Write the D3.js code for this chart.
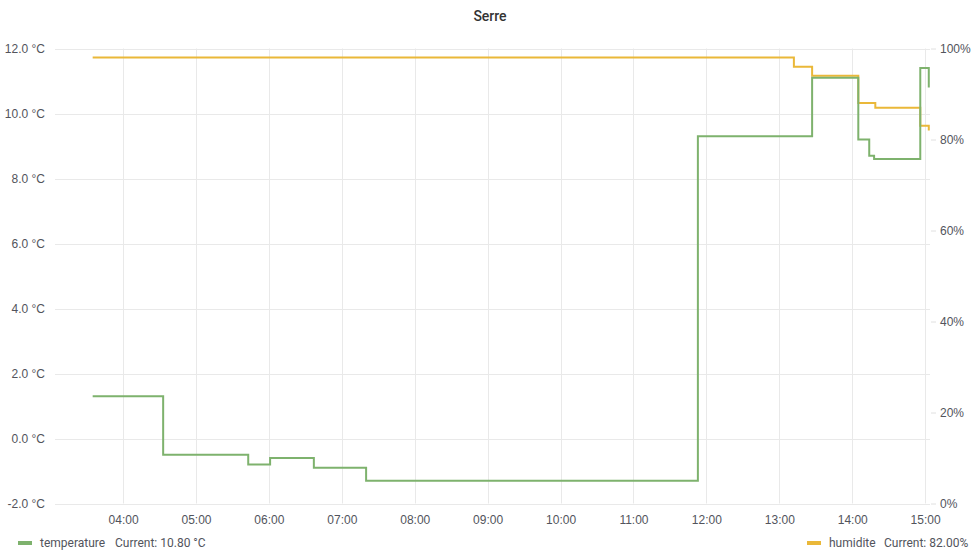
<!DOCTYPE html>
<html>
<head>
<meta charset="utf-8">
<script src="https://cdn.jsdelivr.net/npm/d3@7"></script>
<style>
  body { margin: 0; background: #fff; }
  svg { font-family: Roboto, "Noto Sans", sans-serif; }
  .grid line { stroke: #e9e9e9; stroke-width: 1; }
  .axis text { fill: #52545c; font-size: 12px; }
</style>
</head>
<body>
<div id="chart"></div>
<script>
// temperature series (step after)
var tempTimes = ["03:35", "04:33", "05:43", "06:01", "06:37", "07:20", "11:53", "13:27", "14:05", "14:14", "14:18", "14:56", "15:03"];
var tempValues = [1.3, -0.5, -0.8, -0.6, -0.9, -1.3, 9.3, 11.1, 9.2, 8.7, 8.6, 11.4, 10.8];

// humidity series
var humTimes = ["03:35", "13:12", "13:27", "14:05", "14:19", "14:56", "15:03"];
var humValues = [98, 96, 94, 88, 87, 83, 82];

// axes
var timeDomain = ["03:04", "15:04"];
var hourTicks = ["04:00", "05:00", "06:00", "07:00", "08:00", "09:00", "10:00", "11:00", "12:00", "13:00", "14:00", "15:00"];
var tempTicks = [-2, 0, 2, 4, 6, 8, 10, 12];
var humTicks = [0, 20, 40, 60, 80, 100];

var width = 980, height = 560;
var plotLeft = 55, plotRight = 930, plotTop = 48.5, plotBottom = 503.5;

var parse = d3.timeParse("%H:%M");
// grafana uses a plain hyphen for negatives
var fmt1 = d => d.toFixed(1);

var svg = d3.select("#chart")
    .append("svg")
    .attr("width", width)
    .attr("height", height);

var x = d3.scaleTime()
    .domain(timeDomain.map(parse))
    .range([plotLeft, plotRight]);

var yT = d3.scaleLinear().domain([-2, 12]).range([plotBottom, plotTop]);
var yH = d3.scaleLinear().domain([0, 100]).range([plotBottom, plotTop]);

// title
svg.append("text")
    .attr("x", 490)
    .attr("y", 21)
    .attr("text-anchor", "middle")
    .style("font-size", "14px")
    .style("font-weight", 500)
    .style("fill", "#333")
    .text("Serre");

// horizontal grid
svg.append("g")
    .attr("class", "grid")
    .selectAll("line")
    .data(tempTicks)
    .enter().append("line")
    .attr("x1", plotLeft)
    .attr("x2", plotRight)
    .attr("y1", d => Math.round(yT(d)) + 0.5)
    .attr("y2", d => Math.round(yT(d)) + 0.5);

// vertical grid
svg.append("g")
    .attr("class", "grid")
    .selectAll("line")
    .data(hourTicks.map(parse))
    .enter().append("line")
    .attr("x1", d => Math.round(x(d)) + 0.5)
    .attr("x2", d => Math.round(x(d)) + 0.5)
    .attr("y1", plotTop)
    .attr("y2", plotBottom);

// left axis
var axL = svg.append("g")
    .attr("class", "axis")
    .attr("transform", `translate(${plotLeft - 7},0)`)
    .call(d3.axisLeft(yT).tickValues(tempTicks).tickSize(0).tickFormat(d => fmt1(d) + " °C"));
axL.select(".domain").remove();

// right axis
var axR = svg.append("g")
    .attr("class", "axis")
    .attr("transform", `translate(${plotRight + 1},0)`)
    .call(d3.axisRight(yH).tickValues(humTicks).tickSize(5).tickPadding(4).tickFormat(d => d + "%"));
axR.select(".domain").remove();
axR.selectAll(".tick line").attr("stroke", "#e0e0e0");

// bottom axis
var axB = svg.append("g")
    .attr("class", "axis")
    .attr("transform", `translate(0,${plotBottom + 9})`)
    .call(d3.axisBottom(x).tickValues(hourTicks.map(parse)).tickSize(0).tickFormat(d3.timeFormat("%H:%M")));
axB.select(".domain").remove();

// lines
var tempData = tempTimes.map((t, i) => ({ t: parse(t), v: tempValues[i] }));
var humData = humTimes.map((t, i) => ({ t: parse(t), v: humValues[i] }));

var tempLine = d3.line().x(d => x(d.t)).y(d => yT(d.v)).curve(d3.curveStepAfter);
var humLine = d3.line().x(d => x(d.t)).y(d => yH(d.v)).curve(d3.curveStepAfter);

svg.append("path")
    .datum(humData)
    .attr("fill", "none")
    .attr("stroke", "#eab839")
    .attr("stroke-width", 2)
    .attr("d", humLine);

svg.append("path")
    .datum(tempData)
    .attr("fill", "none")
    .attr("stroke", "#7eb26d")
    .attr("stroke-width", 2)
    .attr("d", tempLine);

// legend
var lg = svg.append("g").style("font-size", "12px").style("fill", "#52545c");

lg.append("rect").attr("x", 18).attr("y", 541).attr("width", 14).attr("height", 4).attr("fill", "#7eb26d");
lg.append("text").attr("x", 40).attr("y", 547).text("temperature");
lg.append("text").attr("x", 115).attr("y", 547).text("Current: " + tempValues[tempValues.length - 1].toFixed(2) + " °C");

lg.append("rect").attr("x", 807).attr("y", 541).attr("width", 14).attr("height", 4).attr("fill", "#eab839");
lg.append("text").attr("x", 829).attr("y", 547).text("humidite");
lg.append("text").attr("x", 884).attr("y", 547).text("Current: " + humValues[humValues.length - 1].toFixed(2) + "%");
</script>
</body>
</html>
